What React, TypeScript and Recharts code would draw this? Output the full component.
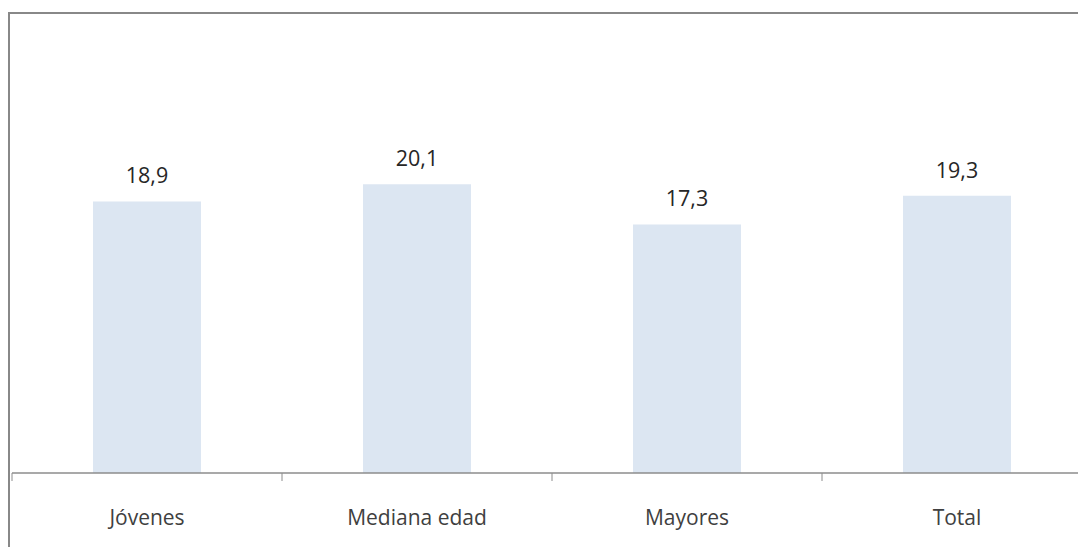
import React from "react"
import { Bar, BarChart, LabelList, XAxis, YAxis } from "recharts"

const categories = ["Jóvenes", "Mediana edad", "Mayores", "Total"]
const values = [18.9, 20.1, 17.3, 19.3]
const valueLabels = ["18,9", "20,1", "17,3", "19,3"]

const data = categories.map((name, i) => ({ name, value: values[i], label: valueLabels[i] }))

const CHART_W = 1100
const CHART_H = 540
const MARGIN = { top: 28, right: 18, left: 2, bottom: 21 }
const BAND = (CHART_W - MARGIN.left - MARGIN.right) / categories.length
const FONT = "'Open Sans', sans-serif"

function CategoryTick(props: any) {
  const { x, y, payload } = props
  // tick marks sit on the category boundaries, not the centres
  const axisY = y - 37
  return (
    <g>
      <line x1={x - BAND / 2} y1={axisY} x2={x - BAND / 2} y2={axisY + 8} stroke="#8c8c8c" strokeWidth={1} />
      <text x={x} y={y} dy="0.71em" textAnchor="middle" fill="#404040" fontSize={21} fontFamily={FONT}>
        {payload.value}
      </text>
    </g>
  )
}

export default function App() {
  return (
    <div
      style={{
        position: "fixed",
        left: 0,
        top: 0,
        width: 1078,
        height: 547,
        overflow: "hidden",
        background: "#fff",
      }}
    >
      <div
        style={{
          position: "absolute",
          left: 8,
          top: 12,
          width: CHART_W,
          height: CHART_H,
          border: "2px solid #888888",
          background: "#fff",
        }}
      >
        <BarChart width={CHART_W} height={CHART_H} data={data} margin={MARGIN} barCategoryGap="30%">
          <XAxis
            dataKey="name"
            height={60}
            tickLine={false}
            tickSize={8}
            tickMargin={29}
            axisLine={{ stroke: "#8c8c8c", strokeWidth: 1.5 }}
            tick={<CategoryTick />}
            interval={0}
          />
          <YAxis hide domain={[0, 30]} />
          <Bar dataKey="value" fill="#dce6f2" isAnimationActive={false}>
            <LabelList
              dataKey="label"
              position="top"
              offset={18}
              fill="#262626"
              fontSize={21.5}
              fontFamily={FONT}
            />
          </Bar>
        </BarChart>
      </div>
    </div>
  )
}
